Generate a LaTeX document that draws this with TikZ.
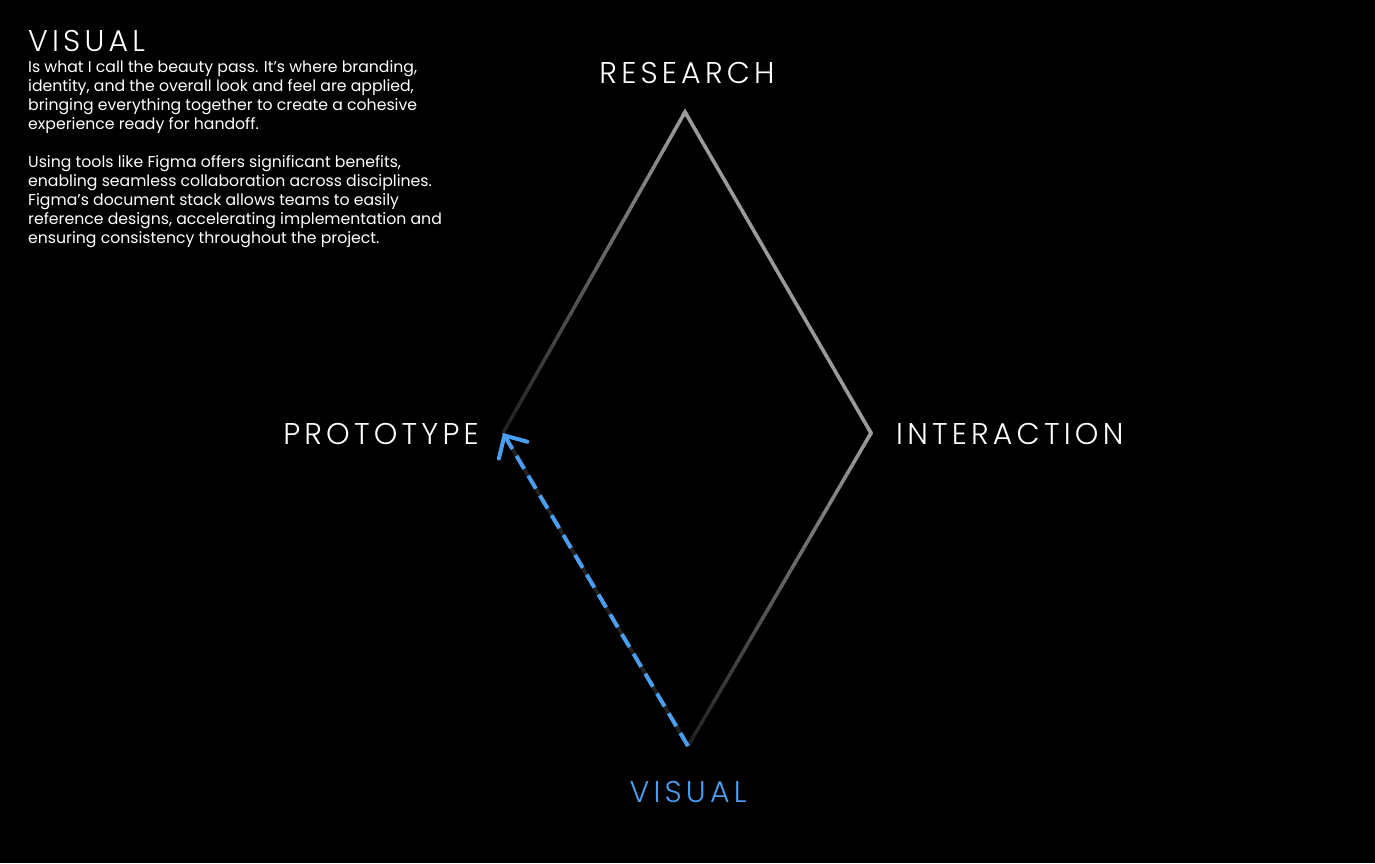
\documentclass[tikz,border=0pt]{standalone}
\usepackage{fontspec}
\setmainfont{Poppins}
\newfontfamily\capsfont{Poppins Light}[LetterSpace=14]
\usetikzlibrary{
  arrows.meta,
  calc
}
\definecolor{edgelight}{RGB}{155,155,155}
\definecolor{edgedark}{RGB}{34,34,34}
\definecolor{visblue}{RGB}{74,158,240}
\tikzset{
  stagelabel/.style={text=white,font=\capsfont\fontsize{30}{30}\selectfont,inner sep=0pt},
  edge/.style={line width=3.6pt},
  flow/.style={visblue,line width=4pt,dash pattern=on 15pt off 8pt}
}
% one diamond side, shaded from #3 to #4 (percent of edgelight)
\newcommand\fadeside[4]{%
  \foreach \k in {0,...,29}{
    \pgfmathsetmacro\mixp{#3+(#4-#3)*\k/29}
    \draw[edge,edgelight!\mixp!edgedark] ($(#1)!{\k/30}!(#2)$) -- ($(#1)!{(\k+1)/30}!(#2)$);
  }}

\begin{document}
\begin{tikzpicture}[x=1pt,y=-1pt]
\fill[black] (0,0) rectangle (1375,863);
\useasboundingbox (0,0) rectangle (1375,863);

% side text
\node[stagelabel,anchor=base west] (title) at (28,51) {VISUAL};
\node[text=white,font=\fontsize{15.7}{19}\selectfont,align=left,inner sep=0pt,
  anchor=north west] (blurb) at (28,60) {Is what I call the beauty pass. It’s where branding,\\
identity, and the overall look and feel are applied,\\
bringing everything together to create a cohesive\\
experience ready for handoff.\\[19pt]
Using tools like Figma offers significant benefits,\\
enabling seamless collaboration across disciplines.\\
Figma’s document stack allows teams to easily\\
reference designs, accelerating implementation and\\
ensuring consistency throughout the project.};

% diamond corners
\coordinate (top) at (685,112);
\coordinate (right) at (871,433);
\coordinate (bottom) at (688,746);
\coordinate (left) at (503,433);

% stage labels
\node[stagelabel,anchor=base] (research) at (687,83) {RESEARCH};
\node[stagelabel,anchor=base west] (interaction) at (896,444) {INTERACTION};
\node[stagelabel,anchor=base east] (prototype) at (479,444) {PROTOTYPE};
\node[stagelabel,anchor=base,text=visblue] (visual) at (688,802) {VISUAL};

% sides
\fadeside{top}{right}{100}{100}
\fadeside{right}{bottom}{100}{0}
\fadeside{bottom}{left}{0}{0}
\fadeside{left}{top}{0}{100}
\draw[edge,edgelight,miter limit=10] ($(top)!5pt!(left)$) -- (top) -- ($(top)!5pt!(right)$);
\draw[edge,edgelight,miter limit=10] ($(right)!5pt!(top)$) -- (right) -- ($(right)!5pt!(bottom)$);

% current step
\draw[flow,-{Straight Barb[length=17pt,width=33pt,line cap=round]}] (bottom) -- (left);
\end{tikzpicture}
\end{document}
